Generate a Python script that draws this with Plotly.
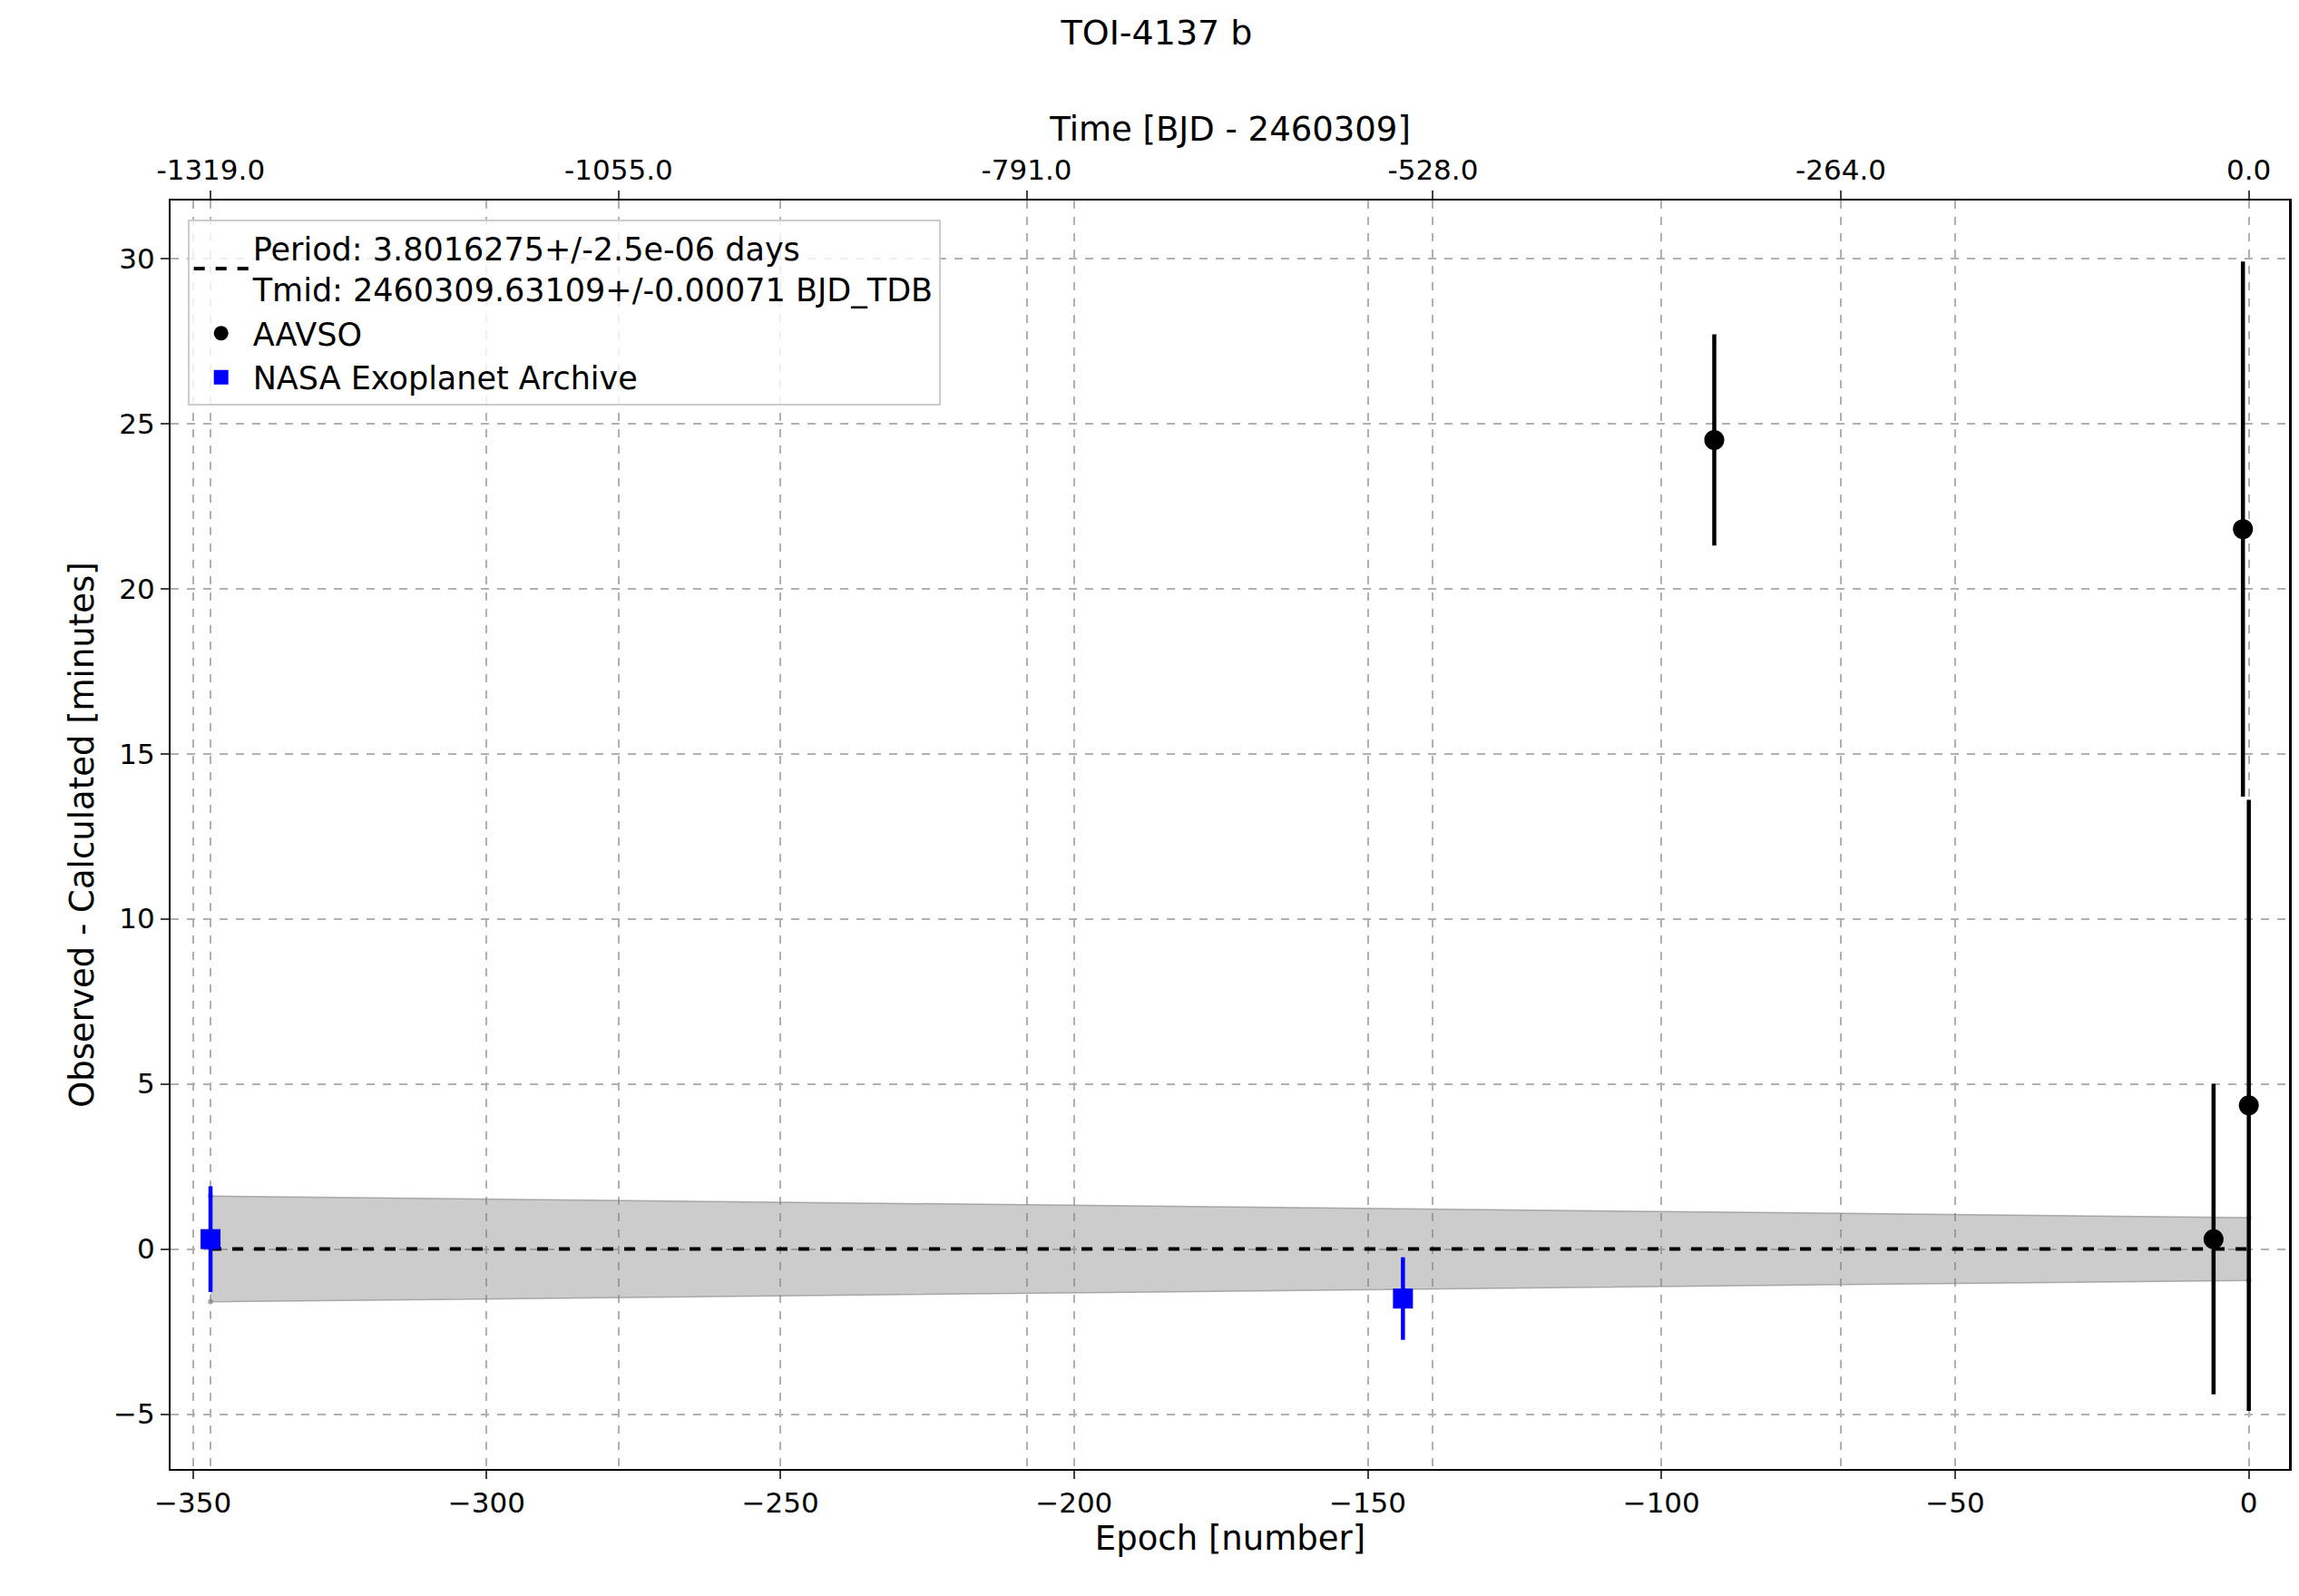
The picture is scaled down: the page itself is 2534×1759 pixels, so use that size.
import plotly.graph_objects as go

period = 3.8016275
aavso_epoch = [-91, -6, -1, 0]
aavso_oc = [24.5, 0.3, 21.8, 4.35]
aavso_err = [3.2, 4.7, 8.1, 9.25]
nasa_epoch = [-347, -144]
nasa_oc = [0.3, -1.5]
nasa_err = [1.6, 1.25]
band_epoch = [-347, 0]
band_half = [1.6, 0.95]
top_ticks = [-1319.0, -1055.0, -791.0, -528.0, -264.0, 0.0]

xr = [-353.8, 7.0]
fig = go.Figure()
fig.add_trace(go.Scatter(x=band_epoch + band_epoch[::-1],
    y=[h for h in band_half] + [-h for h in band_half[::-1]],
    fill='toself', fillcolor='rgba(128,128,128,0.4)', line=dict(color='rgba(128,128,128,0.6)', width=1.5),
    showlegend=False, hoverinfo='skip'))
fig.add_trace(go.Scatter(x=band_epoch, y=[0, 0], mode='lines', line=dict(color='black', dash='dash', width=4),
    name='Period: 3.8016275+/-2.5e-06 days<br>Tmid: 2460309.63109+/-0.00071 BJD_TDB'))
fig.add_trace(go.Scatter(x=aavso_epoch, y=aavso_oc, mode='markers', name='AAVSO',
    marker=dict(color='black', size=22, symbol='circle'),
    error_y=dict(array=aavso_err, color='black', thickness=4.5, width=0)))
fig.add_trace(go.Scatter(x=nasa_epoch, y=nasa_oc, mode='markers', name='NASA Exoplanet Archive',
    marker=dict(color='blue', size=22, symbol='square'),
    error_y=dict(array=nasa_err, color='blue', thickness=4.5, width=0)))
fig.add_trace(go.Scatter(x=top_ticks, y=[0]*len(top_ticks), xaxis='x2', mode='markers',
    marker=dict(opacity=0), showlegend=False, hoverinfo='skip'))

fig.update_layout(
    width=2534, height=1759, template='plotly_white', paper_bgcolor='white', plot_bgcolor='white',
    margin=dict(l=180, r=18, t=213, b=148),
    font=dict(family='DejaVu Sans', size=31, color='black'),
    title=dict(text='TOI-4137 b', x=0.5, xanchor='center', y=0.992, yanchor='top', font=dict(size=38)),
    xaxis=dict(range=xr, title=dict(text='Epoch [number]', standoff=8), tickvals=[-350, -300, -250, -200, -150, -100, -50, 0],
        ticktext=['−350', '−300', '−250', '−200', '−150', '−100', '−50', '0'],
        showline=True, linecolor='black', linewidth=2, ticks='outside', ticklen=9, tickwidth=2,
        showgrid=True, gridcolor='#b0b0b0', griddash='dash', gridwidth=1.5, zeroline=False),
    xaxis2=dict(range=[xr[0]*period, xr[1]*period], overlaying='x', side='top', tickvals=top_ticks,
        ticktext=['%.1f' % t for t in top_ticks], title=dict(text='Time [BJD - 2460309]', standoff=2),
        showline=True, linecolor='black', linewidth=2, ticks='outside', ticklen=9, tickwidth=2,
        showgrid=True, gridcolor='#b0b0b0', griddash='dash', gridwidth=1.5, zeroline=False),
    yaxis=dict(range=[-6.66, 31.75], title=dict(text='Observed - Calculated [minutes]', standoff=10),
        tickvals=[-5, 0, 5, 10, 15, 20, 25, 30], ticktext=['−5', '0', '5', '10', '15', '20', '25', '30'],
        showline=True, linecolor='black', linewidth=2, mirror=True, ticks='outside', ticklen=9, tickwidth=2,
        showgrid=True, gridcolor='#b0b0b0', griddash='dash', gridwidth=1.5, zeroline=False),
    legend=dict(x=0.008, y=0.985, xanchor='left', yanchor='top', bgcolor='rgba(255,255,255,0.8)',
        bordercolor='#cccccc', borderwidth=2, font=dict(size=35), itemwidth=60),
)
fig.add_shape(type='line', xref='paper', yref='paper', x0=1, x1=1, y0=0, y1=1, line=dict(color='black', width=2))
fig.write_html('out.html')
